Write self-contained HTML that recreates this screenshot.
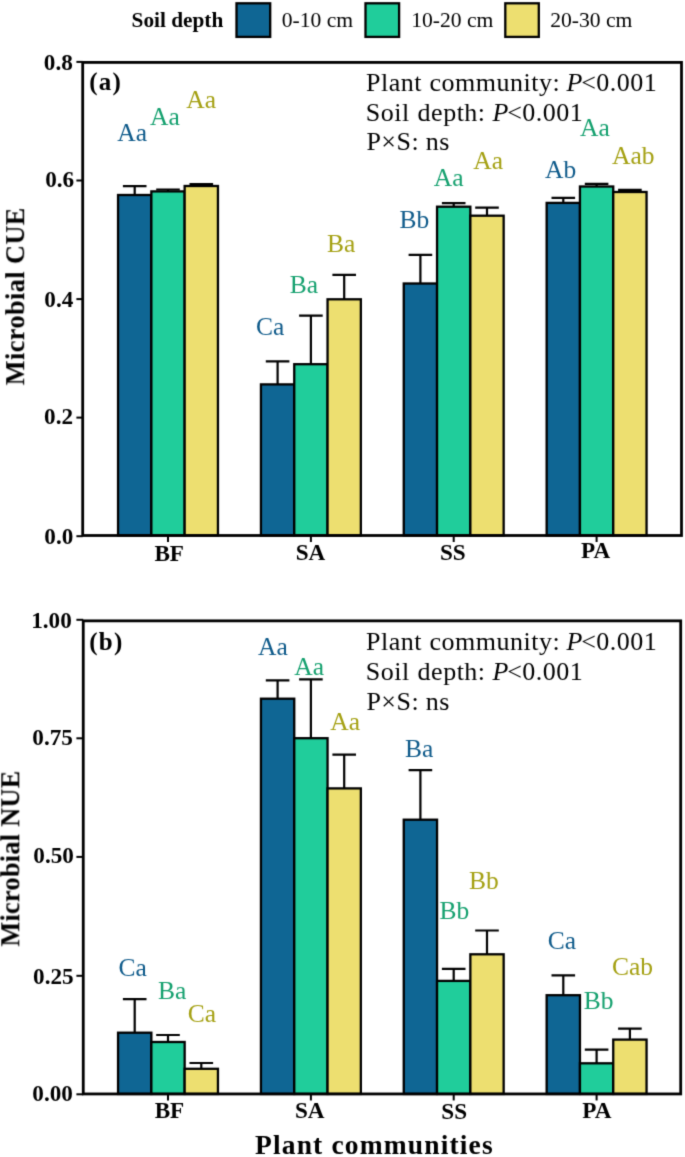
<!DOCTYPE html>
<html><head><meta charset="utf-8"><title>Microbial CUE and NUE</title>
<style>
html,body{margin:0;padding:0;background:#fff;}
body{width:685px;height:1157px;overflow:hidden;}
svg{display:block;will-change:transform;}
text{font-family:"Liberation Serif",serif;}
</style></head><body>
<svg width="685" height="1157" viewBox="0 0 685 1157">
<defs><filter id="soft" x="0" y="0" width="685" height="1157" filterUnits="userSpaceOnUse" color-interpolation-filters="sRGB"><feConvolveMatrix order="3" kernelMatrix="0.02 0.1 0.02 0.1 0.52 0.1 0.02 0.1 0.02" edgeMode="duplicate"/></filter></defs>
<rect x="0" y="0" width="685" height="1157" fill="#fff"/>
<g filter="url(#soft)">

<text x="131.59" y="27.30" font-size="21.3" font-weight="bold">Soil depth</text>
<rect x="236.5" y="3.3" width="33.7" height="33.6" fill="#0f6694" stroke="#000" stroke-width="2.3"/>
<text x="281.80" y="27.30" font-size="21.6">0-10 cm</text>
<rect x="365.5" y="3.3" width="33.6" height="33.6" fill="#20cd9b" stroke="#000" stroke-width="2.3"/>
<text x="411.16" y="27.30" font-size="21.6">10-20 cm</text>
<rect x="505.3" y="3.3" width="33.5" height="33.6" fill="#eddf70" stroke="#000" stroke-width="2.3"/>
<text x="550.21" y="27.30" font-size="21.6">20-30 cm</text>
<path d="M134.70 195.00V186.20M122.90 186.20H146.50" stroke="#000" stroke-width="2.2" fill="none"/>
<rect x="118.05" y="195.00" width="33.30" height="340.50" fill="#0f6694" stroke="#000" stroke-width="2.3"/>
<path d="M168.00 191.40V189.50M156.20 189.50H179.80" stroke="#000" stroke-width="2.2" fill="none"/>
<rect x="151.35" y="191.40" width="33.30" height="344.10" fill="#20cd9b" stroke="#000" stroke-width="2.3"/>
<path d="M201.30 186.00V184.00M189.50 184.00H213.10" stroke="#000" stroke-width="2.2" fill="none"/>
<rect x="184.65" y="186.00" width="33.30" height="349.50" fill="#eddf70" stroke="#000" stroke-width="2.3"/>
<path d="M277.60 384.40V361.40M265.80 361.40H289.40" stroke="#000" stroke-width="2.2" fill="none"/>
<rect x="260.95" y="384.40" width="33.30" height="151.10" fill="#0f6694" stroke="#000" stroke-width="2.3"/>
<path d="M310.90 364.20V315.70M299.10 315.70H322.70" stroke="#000" stroke-width="2.2" fill="none"/>
<rect x="294.25" y="364.20" width="33.30" height="171.30" fill="#20cd9b" stroke="#000" stroke-width="2.3"/>
<path d="M344.20 299.30V274.90M332.40 274.90H356.00" stroke="#000" stroke-width="2.2" fill="none"/>
<rect x="327.55" y="299.30" width="33.30" height="236.20" fill="#eddf70" stroke="#000" stroke-width="2.3"/>
<path d="M420.40 283.50V254.90M408.60 254.90H432.20" stroke="#000" stroke-width="2.2" fill="none"/>
<rect x="403.75" y="283.50" width="33.30" height="252.00" fill="#0f6694" stroke="#000" stroke-width="2.3"/>
<path d="M453.70 206.70V203.20M441.90 203.20H465.50" stroke="#000" stroke-width="2.2" fill="none"/>
<rect x="437.05" y="206.70" width="33.30" height="328.80" fill="#20cd9b" stroke="#000" stroke-width="2.3"/>
<path d="M487.00 215.70V207.70M475.20 207.70H498.80" stroke="#000" stroke-width="2.2" fill="none"/>
<rect x="470.35" y="215.70" width="33.30" height="319.80" fill="#eddf70" stroke="#000" stroke-width="2.3"/>
<path d="M563.30 202.90V197.80M551.50 197.80H575.10" stroke="#000" stroke-width="2.2" fill="none"/>
<rect x="546.65" y="202.90" width="33.30" height="332.60" fill="#0f6694" stroke="#000" stroke-width="2.3"/>
<path d="M596.60 186.50V183.80M584.80 183.80H608.40" stroke="#000" stroke-width="2.2" fill="none"/>
<rect x="579.95" y="186.50" width="33.30" height="349.00" fill="#20cd9b" stroke="#000" stroke-width="2.3"/>
<path d="M629.90 192.00V189.80M618.10 189.80H641.70" stroke="#000" stroke-width="2.2" fill="none"/>
<rect x="613.25" y="192.00" width="33.30" height="343.50" fill="#eddf70" stroke="#000" stroke-width="2.3"/>
<rect x="82.7" y="62.4" width="598.80" height="473.10" fill="none" stroke="#000" stroke-width="2.8"/>
<path d="M76.4 61.90H82.7" stroke="#000" stroke-width="2"/>
<text x="43.86" y="69.90" font-size="23.2" font-weight="bold">0.8</text>
<path d="M76.4 180.50H82.7" stroke="#000" stroke-width="2"/>
<text x="45.16" y="186.90" font-size="23.2" font-weight="bold">0.6</text>
<path d="M76.4 299.10H82.7" stroke="#000" stroke-width="2"/>
<text x="44.36" y="306.50" font-size="23.2" font-weight="bold">0.4</text>
<path d="M76.4 417.60H82.7" stroke="#000" stroke-width="2"/>
<text x="44.06" y="423.90" font-size="23.2" font-weight="bold">0.2</text>
<path d="M76.4 536.20H82.7" stroke="#000" stroke-width="2"/>
<text x="44.36" y="544.10" font-size="23.2" font-weight="bold">0.0</text>
<path d="M168.0 535.5V542.00" stroke="#000" stroke-width="2"/>
<text x="154.38" y="561.00" font-size="23.2" font-weight="bold">BF</text>
<path d="M310.9 535.5V542.00" stroke="#000" stroke-width="2"/>
<text x="295.68" y="559.70" font-size="23.2" font-weight="bold">SA</text>
<path d="M453.7 535.5V542.00" stroke="#000" stroke-width="2"/>
<text x="439.96" y="559.70" font-size="23.2" font-weight="bold">SS</text>
<path d="M596.6 535.5V542.00" stroke="#000" stroke-width="2"/>
<text x="581.01" y="558.40" font-size="23.2" font-weight="bold">PA</text>
<text x="117.22" y="140.50" font-size="25.5" fill="#0e5a8a">Aa</text>
<text x="150.12" y="125.00" font-size="25.5" fill="#14a06e">Aa</text>
<text x="186.32" y="107.80" font-size="25.5" fill="#a4a012">Aa</text>
<text x="255.93" y="334.50" font-size="25.5" fill="#0e5a8a">Ca</text>
<text x="289.64" y="293.00" font-size="25.5" fill="#14a06e">Ba</text>
<text x="327.04" y="252.20" font-size="25.5" fill="#a4a012">Ba</text>
<text x="399.54" y="227.60" font-size="25.5" fill="#0e5a8a">Bb</text>
<text x="433.72" y="186.40" font-size="25.5" fill="#14a06e">Aa</text>
<text x="473.32" y="168.90" font-size="25.5" fill="#a4a012">Aa</text>
<text x="545.02" y="178.20" font-size="25.5" fill="#0e5a8a">Ab</text>
<text x="580.12" y="136.40" font-size="25.5" fill="#14a06e">Aa</text>
<text x="612.02" y="163.60" font-size="25.5" fill="#a4a012">Aab</text>
<text x="89.20" y="90.20" font-size="25" font-weight="bold" letter-spacing="1.3">(a)</text>
<text x="366.02" y="90.70" font-size="26" letter-spacing="0.5">Plant</text>
<text x="429.48" y="90.70" font-size="26" letter-spacing="0.5">community:</text>
<text x="566.58" y="90.70" font-size="26" font-style="italic" letter-spacing="0.5">P</text>
<text x="581.17" y="90.70" font-size="26" letter-spacing="0.5">&lt;0.001</text>
<text x="365.74" y="120.60" font-size="26" letter-spacing="0.5">Soil</text>
<text x="417.61" y="120.60" font-size="26" letter-spacing="0.5">depth:</text>
<text x="492.58" y="120.60" font-size="26" font-style="italic" letter-spacing="0.5">P</text>
<text x="507.17" y="120.60" font-size="26" letter-spacing="0.5">&lt;0.001</text>
<text x="366.42" y="150.30" font-size="26" letter-spacing="0.5">P×S:</text>
<text x="425.69" y="150.30" font-size="26" letter-spacing="0.5">ns</text>
<text font-weight="bold" transform="translate(24.2 296.3) rotate(-90)" font-size="26.3" letter-spacing="0.42" text-anchor="middle">Microbial CUE</text>
<path d="M134.70 1032.70V999.10M122.90 999.10H146.50" stroke="#000" stroke-width="2.2" fill="none"/>
<rect x="118.05" y="1032.70" width="33.30" height="61.25" fill="#0f6694" stroke="#000" stroke-width="2.3"/>
<path d="M168.00 1042.00V1035.00M156.20 1035.00H179.80" stroke="#000" stroke-width="2.2" fill="none"/>
<rect x="151.35" y="1042.00" width="33.30" height="51.95" fill="#20cd9b" stroke="#000" stroke-width="2.3"/>
<path d="M201.30 1068.80V1063.00M189.50 1063.00H213.10" stroke="#000" stroke-width="2.2" fill="none"/>
<rect x="184.65" y="1068.80" width="33.30" height="25.15" fill="#eddf70" stroke="#000" stroke-width="2.3"/>
<path d="M277.60 698.70V680.30M265.80 680.30H289.40" stroke="#000" stroke-width="2.2" fill="none"/>
<rect x="260.95" y="698.70" width="33.30" height="395.25" fill="#0f6694" stroke="#000" stroke-width="2.3"/>
<path d="M310.90 738.20V679.30M299.10 679.30H322.70" stroke="#000" stroke-width="2.2" fill="none"/>
<rect x="294.25" y="738.20" width="33.30" height="355.75" fill="#20cd9b" stroke="#000" stroke-width="2.3"/>
<path d="M344.20 788.40V754.70M332.40 754.70H356.00" stroke="#000" stroke-width="2.2" fill="none"/>
<rect x="327.55" y="788.40" width="33.30" height="305.55" fill="#eddf70" stroke="#000" stroke-width="2.3"/>
<path d="M420.40 819.70V770.10M408.60 770.10H432.20" stroke="#000" stroke-width="2.2" fill="none"/>
<rect x="403.75" y="819.70" width="33.30" height="274.25" fill="#0f6694" stroke="#000" stroke-width="2.3"/>
<path d="M453.70 980.90V968.80M441.90 968.80H465.50" stroke="#000" stroke-width="2.2" fill="none"/>
<rect x="437.05" y="980.90" width="33.30" height="113.05" fill="#20cd9b" stroke="#000" stroke-width="2.3"/>
<path d="M487.00 954.30V930.50M475.20 930.50H498.80" stroke="#000" stroke-width="2.2" fill="none"/>
<rect x="470.35" y="954.30" width="33.30" height="139.65" fill="#eddf70" stroke="#000" stroke-width="2.3"/>
<path d="M563.30 995.20V975.30M551.50 975.30H575.10" stroke="#000" stroke-width="2.2" fill="none"/>
<rect x="546.65" y="995.20" width="33.30" height="98.75" fill="#0f6694" stroke="#000" stroke-width="2.3"/>
<path d="M596.60 1063.30V1049.60M584.80 1049.60H608.40" stroke="#000" stroke-width="2.2" fill="none"/>
<rect x="579.95" y="1063.30" width="33.30" height="30.65" fill="#20cd9b" stroke="#000" stroke-width="2.3"/>
<path d="M629.90 1039.60V1028.60M618.10 1028.60H641.70" stroke="#000" stroke-width="2.2" fill="none"/>
<rect x="613.25" y="1039.60" width="33.30" height="54.35" fill="#eddf70" stroke="#000" stroke-width="2.3"/>
<rect x="83.25" y="620.85" width="597.45" height="473.10" fill="none" stroke="#000" stroke-width="2.8"/>
<path d="M76.4 619.80H83.25" stroke="#000" stroke-width="2"/>
<text x="31.19" y="627.80" font-size="23.2" font-weight="bold">1.00</text>
<path d="M76.4 738.30H83.25" stroke="#000" stroke-width="2"/>
<text x="32.36" y="745.40" font-size="23.2" font-weight="bold">0.75</text>
<path d="M76.4 856.90H83.25" stroke="#000" stroke-width="2"/>
<text x="33.36" y="863.20" font-size="23.2" font-weight="bold">0.50</text>
<path d="M76.4 975.80H83.25" stroke="#000" stroke-width="2"/>
<text x="33.06" y="983.70" font-size="23.2" font-weight="bold">0.25</text>
<path d="M76.4 1094.30H83.25" stroke="#000" stroke-width="2"/>
<text x="32.36" y="1101.00" font-size="23.2" font-weight="bold">0.00</text>
<path d="M168.0 1093.95V1100.45" stroke="#000" stroke-width="2"/>
<text x="154.63" y="1118.40" font-size="23.2" font-weight="bold">BF</text>
<path d="M310.9 1093.95V1100.45" stroke="#000" stroke-width="2"/>
<text x="294.88" y="1118.40" font-size="23.2" font-weight="bold">SA</text>
<path d="M453.7 1093.95V1100.45" stroke="#000" stroke-width="2"/>
<text x="441.26" y="1118.70" font-size="23.2" font-weight="bold">SS</text>
<path d="M596.6 1093.95V1100.45" stroke="#000" stroke-width="2"/>
<text x="582.36" y="1117.70" font-size="23.2" font-weight="bold">PA</text>
<text x="118.53" y="975.90" font-size="25.5" fill="#0e5a8a">Ca</text>
<text x="158.04" y="999.40" font-size="25.5" fill="#14a06e">Ba</text>
<text x="187.73" y="1022.40" font-size="25.5" fill="#a4a012">Ca</text>
<text x="258.12" y="655.00" font-size="25.5" fill="#0e5a8a">Aa</text>
<text x="294.22" y="674.60" font-size="25.5" fill="#14a06e">Aa</text>
<text x="330.32" y="730.20" font-size="25.5" fill="#a4a012">Aa</text>
<text x="404.94" y="756.80" font-size="25.5" fill="#0e5a8a">Ba</text>
<text x="439.54" y="918.90" font-size="25.5" fill="#14a06e">Bb</text>
<text x="469.04" y="888.70" font-size="25.5" fill="#a4a012">Bb</text>
<text x="547.73" y="948.80" font-size="25.5" fill="#0e5a8a">Ca</text>
<text x="583.74" y="1008.50" font-size="25.5" fill="#14a06e">Bb</text>
<text x="611.93" y="975.10" font-size="25.5" fill="#a4a012">Cab</text>
<text x="89.20" y="649.80" font-size="25" font-weight="bold" letter-spacing="1.3">(b)</text>
<text x="366.02" y="650.00" font-size="26" letter-spacing="0.5">Plant</text>
<text x="429.48" y="650.00" font-size="26" letter-spacing="0.5">community:</text>
<text x="566.58" y="650.00" font-size="26" font-style="italic" letter-spacing="0.5">P</text>
<text x="581.17" y="650.00" font-size="26" letter-spacing="0.5">&lt;0.001</text>
<text x="365.74" y="679.90" font-size="26" letter-spacing="0.5">Soil</text>
<text x="417.61" y="679.90" font-size="26" letter-spacing="0.5">depth:</text>
<text x="492.58" y="679.90" font-size="26" font-style="italic" letter-spacing="0.5">P</text>
<text x="507.17" y="679.90" font-size="26" letter-spacing="0.5">&lt;0.001</text>
<text x="366.42" y="709.60" font-size="26" letter-spacing="0.5">P×S:</text>
<text x="425.69" y="709.60" font-size="26" letter-spacing="0.5">ns</text>
<text font-weight="bold" transform="translate(19.3 858.55) rotate(-90)" font-size="26.3" letter-spacing="0.28" text-anchor="middle">Microbial NUE</text>
<text x="255.00" y="1154.20" font-size="27.5" font-weight="bold" letter-spacing="1.15">Plant communities</text>
</g>
</svg>
</body></html>
